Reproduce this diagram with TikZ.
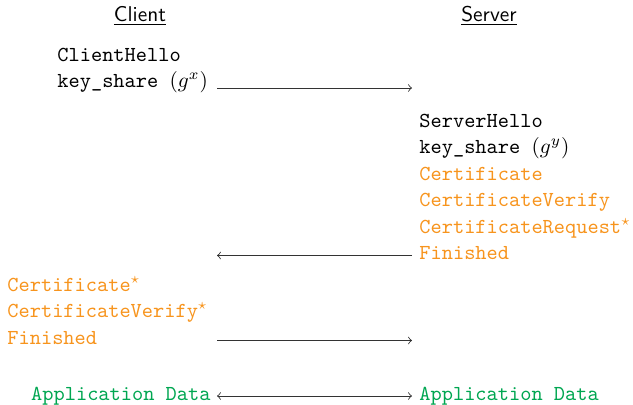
\documentclass[tikz,border=0pt]{standalone}
\usepackage{amsmath}
\usepackage{amssymb}
\definecolor{hsorange}{HTML}{F7941D}
\definecolor{appgreen}{HTML}{00A651}

\begin{document}
\begin{tikzpicture}[x=0.4684pt,y=-0.4684pt,
  party/.style={inner sep=0pt, anchor=base, font=\sffamily},
  msg/.style={inner sep=0pt, anchor=base west, font=\ttfamily},
  hs/.style={msg, text=hsorange},
  app/.style={msg, text=appgreen},
  flow/.style={->, black!80}]
\useasboundingbox (0,0) rectangle (633,404);
\node[party] (client) at (140,21) {\underline{Client}};
\node[party] (server) at (489,21) {\underline{Server}};
\node[msg] (chello) at (57,61) {ClientHello};
\node[msg] (cks) at (57,87.5) {key\_share $(g^x)$};
\node[msg] (shello) at (419,127) {ServerHello};
\node[msg] (sks) at (419,153.5) {key\_share $(g^y)$};
\node[hs] (scert) at (419,180) {Certificate};
\node[hs] (scv) at (419,206.5) {CertificateVerify};
\node[hs] (sreq) at (419,233) {CertificateRequest$^\star$};
\node[hs] (sfin) at (419,259.5) {Finished};
\node[hs] (ccert) at (7,291) {Certificate$^\star$};
\node[hs] (ccv) at (7,317.5) {CertificateVerify$^\star$};
\node[hs] (cfin) at (7,344) {Finished};
\node[app, anchor=base east] (capp) at (211,400) {Application Data};
\node[app] (sapp) at (419,400) {Application Data};
% arrows between the two columns
\coordinate (c1) at (217,88);
\coordinate (s1) at (412,88);
\coordinate (c2) at (217,255.5);
\coordinate (s2) at (412,255.5);
\coordinate (c3) at (217,340.5);
\coordinate (s3) at (412,340.5);
\coordinate (c4) at (217,396);
\coordinate (s4) at (412,396);
\draw[flow] (c1) -- (s1);
\draw[flow] (s2) -- (c2);
\draw[flow] (c3) -- (s3);
\draw[flow, <->] (c4) -- (s4);
\end{tikzpicture}
\end{document}
